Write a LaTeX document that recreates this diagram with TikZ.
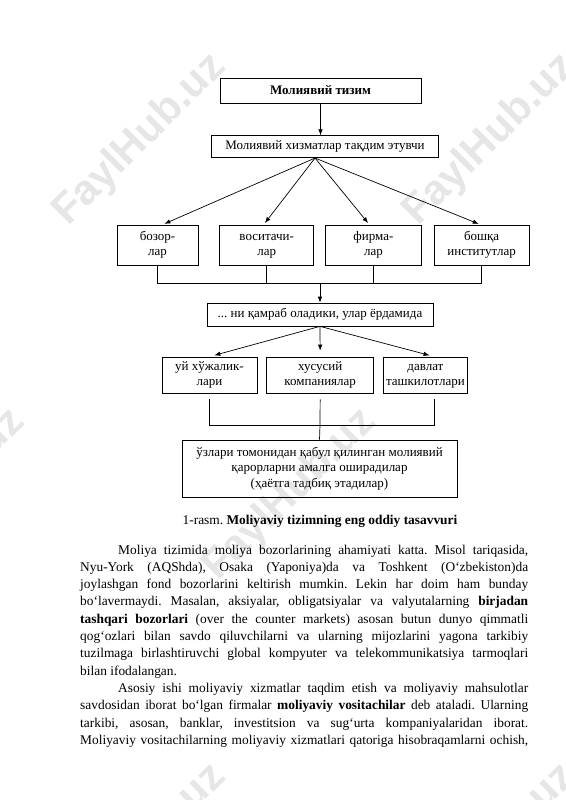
\documentclass[tikz,border=0pt]{standalone}
\usepackage{fontspec}
\setmainfont{Liberation Serif}
\newfontfamily\wmfont{Liberation Sans}
\usepackage{xcolor}
\usetikzlibrary{arrows.meta,positioning}
\definecolor{wmgray}{RGB}{230,230,230}
\frenchspacing
\newcommand{\bxs}{\rule[-3.5pt]{0pt}{13pt}}

\begin{document}
\begin{tikzpicture}[
  x=1pt, y=-1pt,
  box/.style={rectangle, draw, line width=0.7pt, inner sep=1pt, align=center,
    font=\fontsize{13}{15.5}\selectfont},
  arrow/.style={-{Latex[length=6pt,width=4.5pt]}, line width=0.7pt},
  link/.style={line width=0.7pt},
  wmark/.style={text=wmgray, rotate=45, font=\wmfont\bfseries\fontsize{42}{42}\selectfont},
]
\fill[white] (0,0) rectangle (565,800);
\useasboundingbox (0,0) rectangle (565,800);

% watermarks
\begin{scope}
  \clip (0,0) rectangle (565,800);
  \foreach \wx/\wy [count=\i] in {140/140, 490/140, -61/495, 290/495, 140/850, 490/850}
    \node[wmark] (wm\i) at (\wx,\wy) {FaylHub.uz};
\end{scope}

% top of the scheme
\node[box, minimum width=201pt, minimum height=25pt, font=\bfseries\fontsize{13}{15.5}\selectfont] (sys) at (320.5,90.5) {Молиявий тизим};
\node[box, minimum width=227pt, minimum height=22pt, below=32pt of sys, xshift=4.5pt] (svc) {Молиявий хизматлар тақдим этувчи};

% first row
\node[box, minimum width=81pt, minimum height=40pt] (bz) at (157.5,245) {\bxs бозор-\\\bxs лар};
\node[box, minimum width=94pt, minimum height=40pt, right=21pt of bz] (vs) {\bxs воситачи-\\\bxs лар};
\node[box, minimum width=96pt, minimum height=40pt, right=11pt of vs] (fr) {\bxs фирма-\\\bxs лар};
\node[box, minimum width=95pt, minimum height=40pt, right=12pt of fr] (bi) {\bxs бошқа\\\bxs институтлар};

\node[box, minimum width=226pt, minimum height=23pt] (nq) at (320,314.5) {... ни қамраб оладики, улар ёрдамида};

% second row
\node[box, minimum width=95pt, minimum height=36pt] (uy) at (209.5,375) {\bxs уй хўжалик-\\\bxs лари};
\node[box, minimum width=107pt, minimum height=36pt, right=9pt of uy] (xk) {\bxs хусусий\\\bxs компаниялар};
\node[box, minimum width=84pt, minimum height=36pt, right=9pt of xk] (dt) {\bxs давлат\\\bxs ташкилотлари};

\node[box, minimum width=275pt, minimum height=57pt] (qr) at (319.5,468.5) {ўзлари томонидан қабул қилинган молиявий\\қарорларни амалга оширадилар\\(ҳаётга тадбиқ этадилар)};

\coordinate (fan) at ([xshift=-10pt]svc.south);
\coordinate (bus1) at (320,283);
\coordinate (bus2) at (320,425);

\draw[arrow] (sys.south) -- (sys.south |- svc.north);
\draw[arrow, shorten >=2pt] (fan) -- ([xshift=5pt]bz.north);
\draw[arrow, shorten >=2pt] (fan) -- ([xshift=-3pt]vs.north);
\draw[arrow, shorten >=2pt] (fan) -- ([xshift=-4pt]fr.north);
\draw[arrow, shorten >=2pt] (fan) -- ([xshift=-1pt]bi.north);

\foreach \n in {bz,vs,fr,bi}
  \draw[link] (\n.south) |- (bus1);
\draw[arrow] (bus1) -- (nq.north);

\draw[arrow, shorten >=5pt] (nq.south) -- (uy.north);
\draw[arrow, shorten >=6pt] (nq.south) -- (xk.north);
\draw[arrow, shorten >=5pt] (nq.south) -- ([xshift=9pt]dt.north);

\draw[link, shorten <=6pt] (uy.south) |- (bus2);
\draw[link, shorten <=6pt] ([xshift=9pt]dt.south) |- (bus2);
\draw[link, shorten <=6pt] (xk.south) -- (bus2) -- (qr.north);

% caption and text
\node[font=\fontsize{13.4}{16}\selectfont] (cap) at (320,521) {1-rasm. \textbf{Moliyaviy tizimning eng oddiy tasavvuri}};

\node[anchor=north west, inner sep=0pt, text width=448pt, align=justify, font=\fontsize{13.4}{17.3}\selectfont] (body) at (80,544.5) {%
\hyphenpenalty=10000\exhyphenpenalty=10000\tolerance=9999%
\noindent\hspace*{38pt}Moliya tizimida moliya bozorlarining ahamiyati katta. Misol tariqasida,\linebreak
Nyu-York (AQShda), Osaka (Yaponiya)da va Toshkent (O‘zbekiston)da\linebreak
joylashgan fond bozorlarini keltirish mumkin. Lekin har doim ham bunday\linebreak
bo‘lavermaydi. Masalan, aksiyalar, obligatsiyalar va valyutalarning \textbf{birjadan\linebreak
tashqari bozorlari} (over the counter markets) asosan butun dunyo qimmatli\linebreak
qog‘ozlari bilan savdo qiluvchilarni va ularning mijozlarini yagona tarkibiy\linebreak
tuzilmaga birlashtiruvchi global kompyuter va telekommunikatsiya tarmoqlari\linebreak
bilan ifodalangan.\par
\noindent\hspace*{38pt}Asosiy ishi moliyaviy xizmatlar taqdim etish va moliyaviy mahsulotlar\linebreak
savdosidan iborat bo‘lgan firmalar \textbf{moliyaviy vositachilar} deb ataladi. Ularning\linebreak
tarkibi, asosan, banklar, investitsion va sug‘urta kompaniyalaridan iborat.\linebreak
Moliyaviy vositachilarning moliyaviy xizmatlari qatoriga hisobraqamlarni ochish,\parfillskip=0pt\par};
\end{tikzpicture}
\end{document}
